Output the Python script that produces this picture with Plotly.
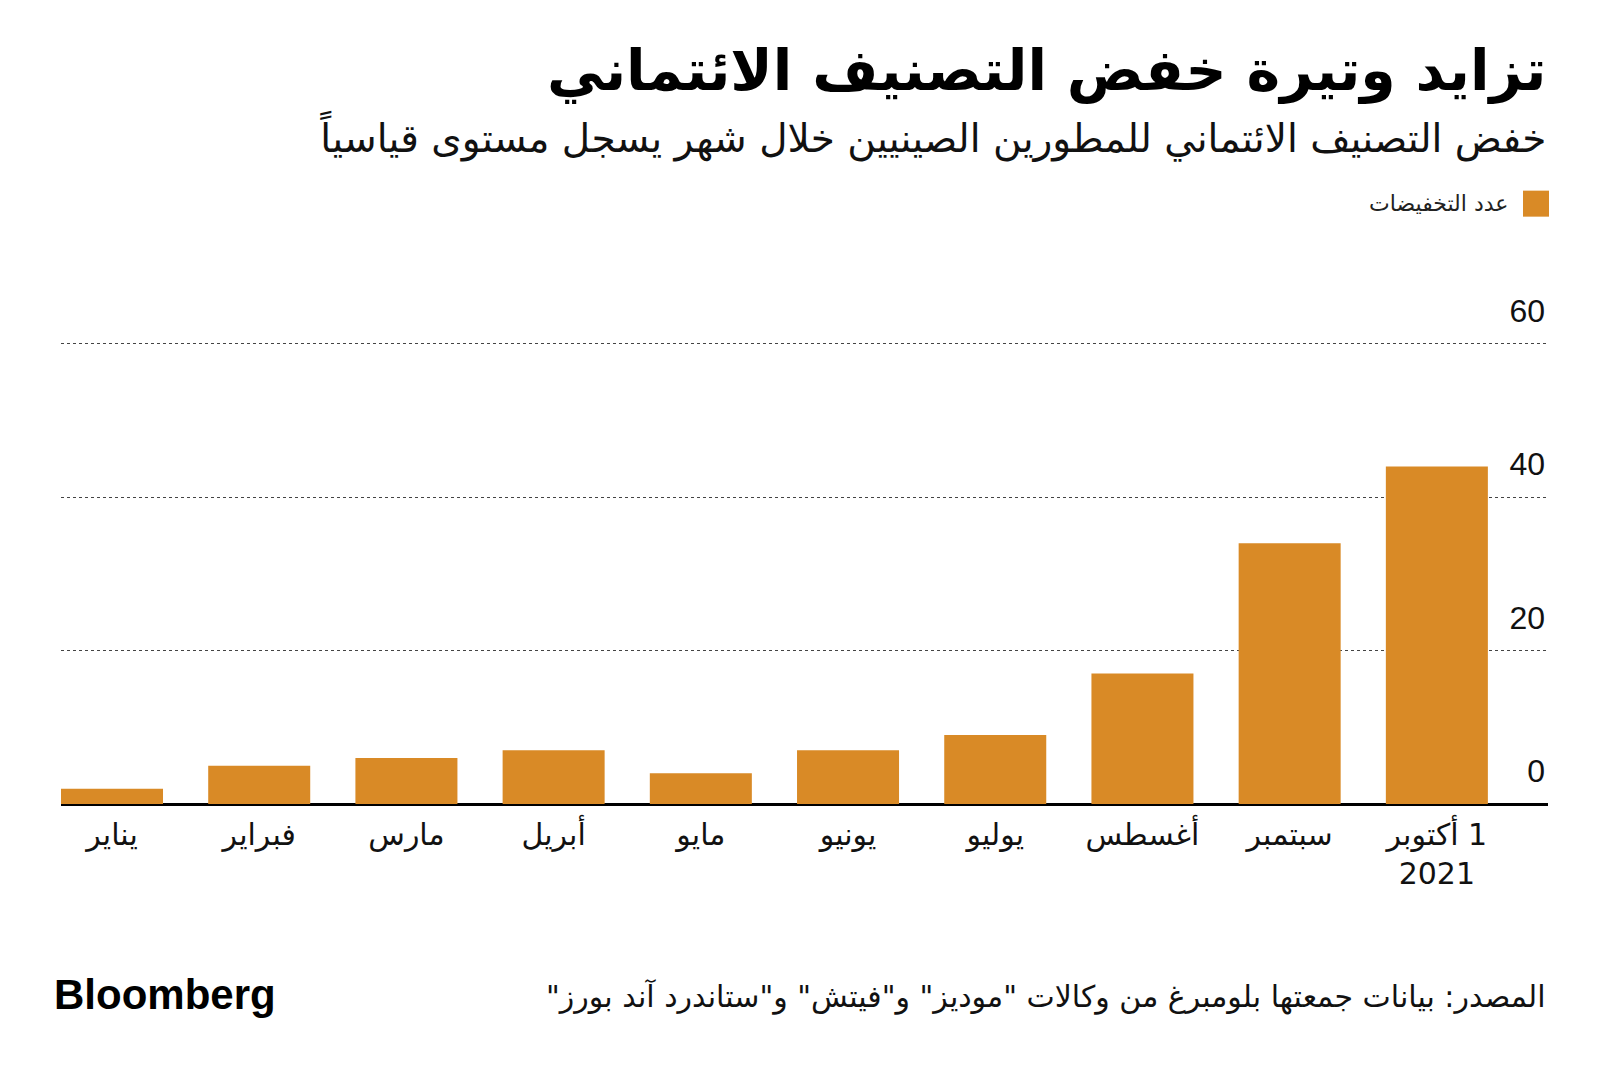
import plotly.graph_objects as go

# ---- data ----
months = ["يناير", "فبراير", "مارس", "أبريل", "مايو", "يونيو", "يوليو", "أغسطس", "سبتمبر", "أكتوبر"]
tick_labels = ["يناير", "فبراير", "مارس", "أبريل", "مايو", "يونيو", "يوليو", "أغسطس", "سبتمبر",
               "\u200f1 أكتوبر<br>2021"]
downgrades = [2, 5, 6, 7, 4, 7, 9, 17, 34, 44]
y_ticks = [0, 20, 40, 60]

title_text = "تزايد وتيرة خفض التصنيف الائتماني"
subtitle_text = "خفض التصنيف الائتماني للمطورين الصينيين خلال شهر يسجل مستوى قياسياً"
legend_text = "عدد التخفيضات"
source_text = "\u200fالمصدر: بيانات جمعتها بلومبرغ من وكالات \"موديز\" و\"فيتش\" و\"ستاندرد آند بورز\"\u200f"

BAR = "#D98A26"
OFF = 8                     # browser body margin
W, H = 1600 - OFF, 1074 - OFF
PL, PR = 61, 1548           # plot left/right px (page coords)
PB = 804                    # zero line px (page coords)
YMAX = 70
PX_PER_UNIT = 7.667
PT = PB - YMAX * PX_PER_UNIT

def xp(px):
    return (px - PL) / (PR - PL)

def yp(py):
    return (PB - py) / (PB - PT)

AR_FONT = "DejaVu Sans, Noto Sans, sans-serif"

fig = go.Figure()
fig.add_trace(go.Bar(x=months, y=downgrades, marker=dict(color=BAR, line=dict(width=0)),
                     name=legend_text, showlegend=False))

fig.update_layout(
    width=W, height=H,
    margin=dict(l=PL - OFF, r=1600 - PR, t=PT - OFF, b=1074 - PB),
    paper_bgcolor="white", plot_bgcolor="white",
    bargap=0.307,
    font=dict(family=AR_FONT, color="#111"),
    xaxis=dict(
        type="category", range=[-0.3465, 9.755],
        tickvals=months, ticktext=tick_labels,
        showgrid=False, showline=False, ticks="",
        tickfont=dict(size=30, family=AR_FONT, color="#111"),
        ticklabelstandoff=10,
    ),
    yaxis=dict(
        range=[0, YMAX], side="right",
        tickvals=y_ticks, ticklabelposition="inside",
        ticklabelshift=-33, ticklabelstandoff=0, ticks="",
        tickfont=dict(size=32, family="Liberation Sans, Arial", color="#111"),
        showgrid=True, gridcolor="#444", gridwidth=1, griddash="3px,3px",
        zeroline=True, zerolinecolor="#000", zerolinewidth=3,
        showline=False,
    ),
)

anns = [
    dict(text="<b>" + title_text + "</b>", x=xp(1548), y=yp(71), xanchor="right", yanchor="middle",
         font=dict(size=57, family=AR_FONT, color="#000")),
    dict(text=subtitle_text, x=xp(1548), y=yp(136), xanchor="right", yanchor="middle",
         font=dict(size=39, family=AR_FONT, color="#111")),
    dict(text=legend_text, x=xp(1510), y=yp(204), xanchor="right", yanchor="middle",
         font=dict(size=22, family=AR_FONT, color="#222")),
    dict(text=source_text, x=xp(1548), y=yp(997), xanchor="right", yanchor="middle",
         font=dict(size=30, family=AR_FONT, color="#111")),
    dict(text="<b>Bloomberg</b>", x=xp(52), y=yp(994), xanchor="left", yanchor="middle",
         font=dict(size=42, family="Liberation Sans, Arial", color="#000")),
]
for a in anns:
    a.update(xref="paper", yref="paper", showarrow=False)
fig.update_layout(annotations=anns)

fig.add_shape(type="rect", xref="paper", yref="paper",
              x0=xp(1523), x1=xp(1549), y0=yp(191), y1=yp(217),
              fillcolor=BAR, line=dict(width=0))

fig.write_html("out.html")
